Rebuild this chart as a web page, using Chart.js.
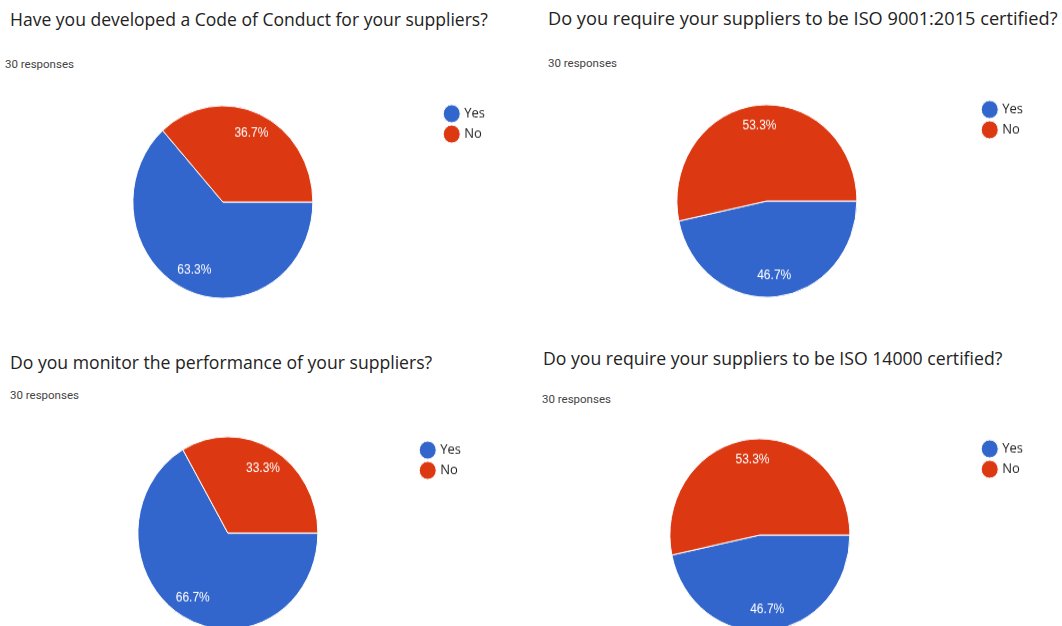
<!DOCTYPE html>
<html>
<head>
<meta charset="utf-8">
<script src="https://cdn.jsdelivr.net/npm/chart.js@4.4.1/dist/chart.umd.min.js"></script>
<style>
    html, body { margin: 0; padding: 0; background: #fff; width: 1062px; height: 626px; overflow: hidden; position: relative; }
    .title { position: absolute; font-family: "Open Sans", sans-serif; font-size: 16px; color: #222; line-height: 20px; white-space: nowrap; }
    .count { position: absolute; font-family: Roboto, sans-serif; font-size: 11.5px; color: #444; line-height: 14px; white-space: nowrap; }
    .box { position: absolute; }
</style>
</head>
<body>
<script>
// Survey answers, 30 responses each
const answerLabels = ['Yes', 'No'];
const questionTitles = [
    'Have you developed a Code of Conduct for your suppliers?',
    'Do you require your suppliers to be ISO 9001:2015 certified?',
    'Do you monitor the performance of your suppliers?',
    'Do you require your suppliers to be ISO 14000 certified?'
];
const responseCounts = [30, 30, 30, 30];
const yesCounts = [19, 14, 20, 14];
const noCounts = [11, 16, 10, 16];
const sliceColors = ['#3366cc', '#dc3912'];

// where each panel sits on the page (the screenshot is a bit taller than wide, hence stretchY)
const stretchY = 1.07;
const panels = [
    { titleX: 10, titleY: 9, titleW: 478, countX: 5, countY: 57, left: 6, top: 107, width: 489, height: 190 },
    { titleX: 548, titleY: 8, titleW: 510, countX: 548, countY: 56, left: 556, top: 103, width: 477, height: 196 },
    { titleX: 10, titleY: 352, titleW: 423, countX: 10, countY: 388, left: 40, top: 443, width: 431, height: 180 },
    { titleX: 543, titleY: 348, titleW: 460, countX: 542, countY: 392, left: 542, top: 442, width: 491, height: 186 }
];

/**
 * Writes the percentage of each slice inside the pie.
 */
const percentLabels = {
    id: 'percentLabels',
    afterDatasetsDraw(chart) {
        const ctx = chart.ctx;
        const values = chart.data.datasets[0].data;
        const total = values.reduce((a, b) => a + b, 0);
        chart.getDatasetMeta(0).data.forEach((arc, i) => {
            const { x, y, startAngle, endAngle, outerRadius } = arc.getProps(['x', 'y', 'startAngle', 'endAngle', 'outerRadius'], true);
            const mid = (startAngle + endAngle) / 2;
            const r = outerRadius * 0.78;
            ctx.save();
            ctx.fillStyle = '#fff';
            ctx.font = '12px "Liberation Sans", Arial, sans-serif';
            ctx.textAlign = 'center';
            ctx.textBaseline = 'middle';
            ctx.fillText((values[i] / total * 100).toFixed(1) + '%', x + Math.cos(mid) * r, y + Math.sin(mid) * r);
            ctx.restore();
        });
    }
};

/**
 * Builds one question panel: title, response count and pie chart.
 */
function createPanel(i) {
    const p = panels[i];

    const title = document.createElement('div');
    title.className = 'title';
    title.style.left = p.titleX + 'px';
    title.style.top = p.titleY + 'px';
    title.textContent = questionTitles[i];
    document.body.appendChild(title);
    // scale the font so the line is as long as in the screenshot
    title.style.fontSize = (16 * p.titleW / title.offsetWidth).toFixed(2) + 'px';

    const count = document.createElement('div');
    count.className = 'count';
    count.style.left = p.countX + 'px';
    count.style.top = p.countY + 'px';
    count.textContent = responseCounts[i] + ' responses';
    document.body.appendChild(count);

    const box = document.createElement('div');
    box.className = 'box';
    box.style.left = p.left + 'px';
    box.style.top = p.top + 'px';
    box.style.width = p.width + 'px';
    box.style.height = p.height + 'px';
    box.style.transform = 'scaleY(' + stretchY + ')';
    box.style.transformOrigin = '50% 50%';
    const canvas = document.createElement('canvas');
    box.appendChild(canvas);
    document.body.appendChild(box);

    new Chart(canvas.getContext('2d'), {
        type: 'pie',
        data: {
            labels: answerLabels,
            datasets: [{
                data: [yesCounts[i], noCounts[i]],
                backgroundColor: sliceColors,
                borderColor: '#fff',
                borderWidth: 1
            }]
        },
        options: {
            responsive: true,
            maintainAspectRatio: false,
            animation: false,
            rotation: 90,
            radius: 90,
            layout: { padding: 0 },
            plugins: {
                tooltip: { enabled: false },
                legend: {
                    position: 'right',
                    align: 'start',
                    labels: {
                        usePointStyle: true,
                        pointStyle: 'circle',
                        boxWidth: 12,
                        boxHeight: 12,
                        padding: 6,
                        color: '#222',
                        font: { family: '"Open Sans", sans-serif', size: 13 }
                    }
                }
            }
        },
        plugins: [percentLabels]
    });
}

for (let i = 0; i < questionTitles.length; i++) {
    createPanel(i);
}
</script>
</body>
</html>
